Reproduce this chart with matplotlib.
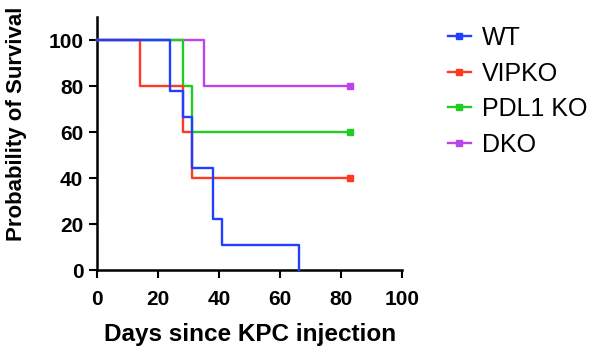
import matplotlib
matplotlib.use("Agg")
import matplotlib.pyplot as plt
from matplotlib.lines import Line2D

plt.rcParams['font.family'] = ['Liberation Sans', 'DejaVu Sans']

groups = ['WT', 'VIPKO', 'PDL1 KO', 'DKO']
colors = ['#2040ff', '#ff3a22', '#22cc22', '#bb44ee']

# Kaplan-Meier step points (days, survival %)
wt_days = [0, 24, 28, 31, 38, 41, 66]
wt_surv = [100, 77.8, 66.7, 44.4, 22.2, 11.1, 0]
vipko_days = [0, 14, 28, 31, 83]
vipko_surv = [100, 80, 60, 40, 40]
pdl1_days = [0, 28, 31, 83]
pdl1_surv = [100, 80, 60, 60]
dko_days = [0, 35, 83]
dko_surv = [100, 80, 80]

series = [(wt_days, wt_surv), (vipko_days, vipko_surv),
          (pdl1_days, pdl1_surv), (dko_days, dko_surv)]
censored = [False, True, True, True]

fig = plt.figure(figsize=(5.89, 3.48), dpi=100)
ax = fig.add_axes([0.165, 0.224, 0.518, 0.727])

# WT drawn on top, DKO at the bottom
for i, ((d, s), c, cens) in enumerate(zip(series, colors, censored)):
    z = 10 - i
    ax.step(d, s, where='post', color=c, lw=1.7, clip_on=False, zorder=z)
    if cens:
        ax.plot(d[-1], s[-1], marker='s', ms=4, color=c, clip_on=False, zorder=z)

ax.set_xlim(0, 100)
ax.set_ylim(0, 110)
ax.set_xticks(range(0, 101, 20))
ax.set_yticks(range(0, 101, 20))
for side in ['top', 'right']:
    ax.spines[side].set_visible(False)
for side in ['left', 'bottom']:
    ax.spines[side].set_linewidth(1.8)
ax.tick_params(width=1.5, length=6, labelsize=15)
ax.tick_params(axis='y', pad=4)
ax.tick_params(axis='x', pad=8.5)
for lab in ax.get_xticklabels() + ax.get_yticklabels():
    lab.set_fontweight('bold')
ax.set_xlabel('Days since KPC injection', fontsize=17.5, fontweight='bold', labelpad=10)
ax.set_ylabel('Probability of Survival', fontsize=16, fontweight='bold')
ax.yaxis.set_label_coords(-0.23, 0.577)

handles = [Line2D([0], [0], color=c, lw=1.7, marker='s', ms=4) for c in colors]
fig.legend(handles, groups, loc='upper left', bbox_to_anchor=(0.76, 0.925),
           frameon=False, fontsize=18, handlelength=0.92, handletextpad=0.45,
           labelspacing=0.46, borderpad=0, borderaxespad=0)

fig.savefig('out.png', dpi=100)
